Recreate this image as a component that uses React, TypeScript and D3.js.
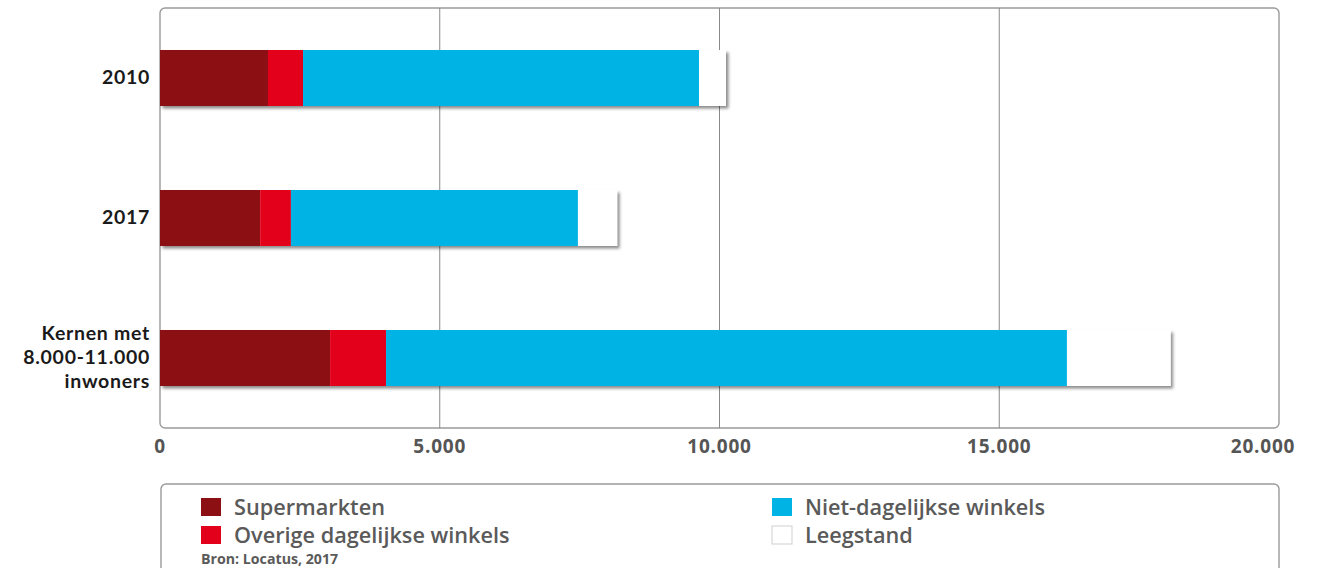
import React from "react";
import * as d3 from "d3";

const categories = ["2010", "2017", "Kernen met|8.000-11.000|inwoners"];
const seriesNames = ["Supermarkten", "Overige dagelijkse winkels", "Niet-dagelijkse winkels", "Leegstand"];
const seriesColors = ["#8C0F13", "#E3001B", "#00B3E5", "#FFFFFF"];
const supermarkten = [1930, 1790, 3040];
const overige = [626, 550, 1000];
const nietDagelijks = [7080, 5130, 12170];
const leegstand = [480, 700, 1850];
const xTicks = [0, 5000, 10000, 15000, 20000];
const source = "Bron: Locatus, 2017";

const W = 1322, H = 568;
const left = 160, right = 1279, top = 8, bottom = 428;

export default function App() {
  const x = d3.scaleLinear().domain([0, 20000]).range([left, right]);
  const y = d3.scaleBand().domain(categories).range([top, bottom]).paddingInner(0.6).paddingOuter(0.3);
  const fmt = (v: number) => (v === 0 ? "0" : d3.format(",")(v).replace(/,/g, "."));
  const table = categories.map((c, i) => ({
    cat: c,
    vals: [supermarkten[i], overige[i], nietDagelijks[i], leegstand[i]],
  }));
  const stack = d3.stack<any>().keys([0, 1, 2, 3] as any).value((d: any, k: any) => d.vals[k]);
  const stacked = stack(table as any);
  const bh = y.bandwidth();
  const font = "'Open Sans', 'DejaVu Sans', sans-serif";

  return (
    <svg width={W} height={H} style={{ position: "absolute", left: 0, top: 0, background: "#fff" }} fontFamily={font}>
      <defs>
        <filter id="sh" x="-5%" y="-30%" width="115%" height="170%">
          <feDropShadow dx="2.5" dy="2.5" stdDeviation="1.8" floodColor="#000" floodOpacity="0.45" />
        </filter>
      </defs>
      {/* frame */}
      <rect x={left} y={top} width={right - left} height={bottom - top} rx={5} fill="#fff" stroke="#9a9a9a" strokeWidth={1.4} />
      {xTicks.slice(1, -1).map((t) => (
        <line key={t} x1={x(t)} x2={x(t)} y1={top} y2={bottom} stroke="#8a8a8a" strokeWidth={1} />
      ))}
      {/* bars */}
      {table.map((row, i) => {
        const total = row.vals.reduce((a, b) => a + b, 0);
        const yy = y(row.cat)!;
        return (
          <g key={row.cat}>
            <rect x={x(0)} y={yy} width={x(total) - x(0)} height={bh} fill="#fff" filter="url(#sh)" />
            {stacked.map((s, k) => (
              <rect key={k} x={x(s[i][0])} y={yy} width={x(s[i][1]) - x(s[i][0])} height={bh} fill={seriesColors[k]} />
            ))}
          </g>
        );
      })}
      {/* y labels */}
      {categories.map((c) => {
        const lines = c.split("|");
        const cy = y(c)! + bh / 2;
        const lh = 23.6;
        return (
          <g key={c}>
            {lines.map((l, j) => (
              <text key={j} x={150} y={cy + 6 + (j - (lines.length - 1) / 2) * lh} textAnchor="end" fontFamily="Lato, 'Open Sans', sans-serif" fontSize={19.5} fontWeight={700} letterSpacing={0.7} fill="#1a1a1a">{l}</text>
            ))}
          </g>
        );
      })}
      {/* x tick labels */}
      {xTicks.map((t, i) => (
        <text key={t} x={i === xTicks.length - 1 ? x(t) - 16 : x(t)} y={453} textAnchor="middle" fontSize={19} fontWeight={700} letterSpacing={0.8} fill="#555">{fmt(t)}</text>
      ))}
      {/* legend */}
      <rect x={161} y={484} width={1118} height={120} rx={5} fill="#fff" stroke="#9a9a9a" strokeWidth={1.4} />
      {seriesNames.map((n, k) => {
        const col = k < 2 ? 0 : 1;
        const row = k % 2;
        const sx = col === 0 ? 201 : 772;
        const sy = 498 + row * 28;
        return (
          <g key={n}>
            <rect x={sx} y={sy} width={20} height={18} fill={seriesColors[k]} stroke={k === 3 ? "#cfcfcf" : "none"} strokeWidth={1} />
            <text x={sx + 33} y={sy + 16.5} fontSize={21.7} fontWeight={600} fill="#5a5a5a">{n}</text>
          </g>
        );
      })}
      <text x={201} y={564} fontSize={14.2} fontWeight={700} fill="#5a5a5a">{source}</text>
    </svg>
  );
}
